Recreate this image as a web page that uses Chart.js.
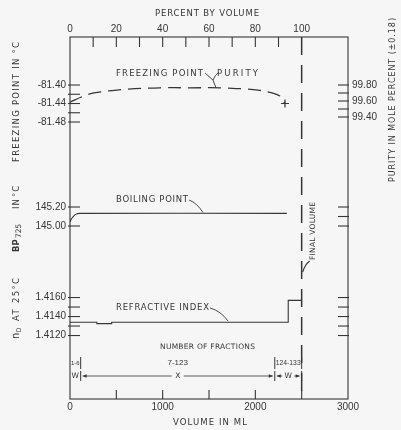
<!DOCTYPE html>
<html>
<head>
<meta charset="utf-8">
<script src="https://cdn.jsdelivr.net/npm/chart.js@4.4.1/dist/chart.umd.min.js"></script>
<style>
  html, body { margin: 0; padding: 0; background: #f6f6f6; }
  #wrap { width: 401px; height: 430px; position: relative; }
</style>
</head>
<body>
<div id="wrap"><canvas id="chart"></canvas></div>
<script>
// --- data (volumes in mL) ---
const fpVolume = [0, 55, 110, 215, 325, 505, 700, 970, 1295, 1620, 1835, 2030, 2180, 2265, 2320];
const fpValues = [-81.437, -81.432, -81.427, -81.419, -81.415, -81.411, -81.408, -81.406, -81.406, -81.406, -81.408, -81.411, -81.417, -81.424, -81.440];
const bpVolume = [0, 12, 35, 65, 105, 2340];
const bpValues = [145.04, 145.07, 145.10, 145.125, 145.133, 145.133];
const riVolume = [0, 290, 450, 2355, 2500];
const riValues = [1.4134, 1.41325, 1.4134, 1.4157, 1.4157];
const finalVolume = 2500;

// tick values
const volumeTicks = [500, 1000, 1500, 2000, 2500];
const percentTicks = [10, 20, 30, 40, 50, 60, 70, 80, 90];
const fpTicks = [-81.40, -81.42, -81.44, -81.46, -81.48];
const fpLabels = [-81.40, -81.44, -81.48];
const purityTicks = [99.80, 99.70, 99.60, 99.50, 99.40];
const purityLabels = [99.80, 99.60, 99.40];
const bpTicksLeft = [145.20, 145.00];
const bpTicksRight = [145.20, 145.10, 145.00];
const bpLabels = [145.20, 145.00];
const riTicks = [1.4160, 1.4150, 1.4140, 1.4130, 1.4120];
const riLabels = [1.4160, 1.4140, 1.4120];

// fraction cuts along the volume axis
const fractionBounds = [0, 115, 2210, 2500];
const fractionNames = ['1-6', '7-123', '124-133'];
const cutNames = ['W', 'X', 'W'];

const ink = '#363636';
const tickFont = '10px "Liberation Sans"';

function pts(xs, ys) { return xs.map((x, i) => ({ x: x, y: ys[i] })); }

// draw text squeezed/stretched to a given width (lettering look)
function fitText(ctx, s, x, y, w, size, rot) {
    ctx.save();
    ctx.translate(x, y);
    if (rot) ctx.rotate(rot);
    ctx.font = size + 'px "DejaVu Sans"';
    ctx.letterSpacing = '0px';
    const m = ctx.measureText(s).width;
    const sp = (w - m) / Math.max(1, s.length - 1);
    ctx.letterSpacing = sp + 'px';
    ctx.textAlign = 'left';
    ctx.textBaseline = 'middle';
    ctx.fillText(s, -w / 2, 0);
    ctx.restore();
}

function line(ctx, x0, y0, x1, y1) {
    ctx.beginPath(); ctx.moveTo(x0, y0); ctx.lineTo(x1, y1); ctx.stroke();
}

const decor = {
    id: 'decor',
    beforeDraw(chart) {
        const ctx = chart.ctx;
        ctx.save();
        ctx.fillStyle = '#f6f6f6';
        ctx.fillRect(0, 0, chart.width, chart.height);
        ctx.restore();
    },
    afterDatasetsDraw(chart) {
        const { ctx, chartArea: a, scales } = chart;
        const x = scales.x, xp = scales.xPct;
        ctx.save();
        ctx.strokeStyle = ink;
        ctx.fillStyle = ink;
        ctx.lineWidth = 1.1;

        // frame
        ctx.strokeRect(a.left, a.top, a.right - a.left, a.bottom - a.top);

        // inward ticks, top and bottom
        percentTicks.forEach(v => { const px = xp.getPixelForValue(v); line(ctx, px, a.top, px, a.top + 10); });
        volumeTicks.forEach(v => { const px = x.getPixelForValue(v); line(ctx, px, a.bottom, px, a.bottom - 9); });

        // left and right ticks
        const leftTicks = (scale, vals) => vals.forEach(v => { const py = scale.getPixelForValue(v); line(ctx, a.left - 2, py, a.left + 10, py); });
        const rightTicks = (scale, vals) => vals.forEach(v => { const py = scale.getPixelForValue(v); line(ctx, a.right - 10, py, a.right + 1, py); });
        leftTicks(scales.yFP, fpTicks);
        leftTicks(scales.yBP, bpTicksLeft);
        leftTicks(scales.yRI, riTicks);
        rightTicks(scales.yPur, purityTicks);
        rightTicks(scales.yBP, bpTicksRight);
        rightTicks(scales.yRI, riTicks);

        // tick labels
        ctx.font = tickFont;
        ctx.textBaseline = 'middle';
        ctx.textAlign = 'right';
        fpLabels.forEach(v => ctx.fillText(v.toFixed(2), a.left - 4, scales.yFP.getPixelForValue(v)));
        bpLabels.forEach(v => ctx.fillText(v.toFixed(2), a.left - 4, scales.yBP.getPixelForValue(v)));
        riLabels.forEach(v => ctx.fillText(v.toFixed(4), a.left - 4, scales.yRI.getPixelForValue(v)));
        ctx.textAlign = 'left';
        purityLabels.forEach(v => ctx.fillText(v.toFixed(2), a.right + 4, scales.yPur.getPixelForValue(v)));

        // final volume dashed line
        const fx = x.getPixelForValue(finalVolume);
        ctx.save();
        ctx.lineWidth = 1.5;
        ctx.setLineDash([18, 10]);
        line(ctx, fx, a.top, fx, a.bottom);
        ctx.restore();
        fitText(ctx, 'FINAL VOLUME', fx + 11, 231, 58, 7.5, -Math.PI / 2);
        ctx.beginPath();
        ctx.moveTo(fx + 8, 261);
        ctx.quadraticCurveTo(fx + 3, 265, fx + 1, 272);
        ctx.stroke();

        // axis titles
        fitText(ctx, 'PERCENT BY VOLUME', 207, 14, 104, 8.5);
        fitText(ctx, 'VOLUME IN ML', 210, 423, 74, 8.5);
        fitText(ctx, 'FREEZING POINT IN °C', 17, 102, 120, 8.5, -Math.PI / 2);
        fitText(ctx, 'PURITY IN MOLE PERCENT (±0.18)', 393, 100, 164, 8, -Math.PI / 2);

        // BP725 IN °C
        ctx.save();
        ctx.translate(17, 252);
        ctx.rotate(-Math.PI / 2);
        ctx.textBaseline = 'middle';
        ctx.textAlign = 'left';
        ctx.font = 'bold 8.5px "DejaVu Sans"';
        ctx.fillText('BP', 0, 0);
        ctx.font = '7.5px "DejaVu Sans"';
        ctx.fillText('725', 14, 2.5);
        ctx.font = '8.5px "DejaVu Sans"';
        ctx.letterSpacing = '1px';
        ctx.fillText('IN', 43, 0);
        ctx.fillText('°C', 55, 0);
        ctx.restore();

        // nD AT 25°C
        ctx.save();
        ctx.translate(17, 339);
        ctx.rotate(-Math.PI / 2);
        ctx.textBaseline = 'middle';
        ctx.textAlign = 'left';
        ctx.font = '10px "DejaVu Sans"';
        ctx.fillText('n', 0, -1);
        ctx.font = '6.5px "DejaVu Sans"';
        ctx.fillText('D', 6.5, 2.5);
        ctx.font = '8.5px "DejaVu Sans"';
        ctx.letterSpacing = '1.3px';
        ctx.fillText('AT', 18, 0);
        ctx.fillText('25°C', 36, 0);
        ctx.restore();

        // curve labels and leaders
        fitText(ctx, 'FREEZING POINT', 159.5, 74, 87, 8.5);
        fitText(ctx, 'PURITY', 237.5, 74, 41, 8.5);
        ctx.lineWidth = 0.9;
        ctx.beginPath();
        ctx.moveTo(205, 73); ctx.lineTo(213, 80);
        ctx.quadraticCurveTo(215, 75, 219, 72);
        ctx.moveTo(213, 80); ctx.lineTo(216, 88);
        ctx.stroke();

        fitText(ctx, 'BOILING POINT', 152, 200, 72, 8.5);
        ctx.beginPath();
        ctx.moveTo(189, 200); ctx.quadraticCurveTo(197, 203, 203, 212.5);
        ctx.stroke();

        fitText(ctx, 'REFRACTIVE INDEX', 162.5, 308, 93, 8.5);
        ctx.beginPath();
        ctx.moveTo(210, 308); ctx.quadraticCurveTo(221, 311, 228, 321);
        ctx.stroke();

        // fractions
        fitText(ctx, 'NUMBER OF FRACTIONS', 207.5, 347, 95, 7.5);
        const row1 = 363, row2 = 376;
        ctx.lineWidth = 1;
        fractionBounds.slice(1).forEach(v => {
            const px = x.getPixelForValue(v);
            line(ctx, px, row1 - 6, px, row1 + 6);
            line(ctx, px, row2 - 5, px, row2 + 5);
        });
        for (let i = 0; i < fractionNames.length; i++) {
            const x0 = x.getPixelForValue(fractionBounds[i]);
            const x1 = x.getPixelForValue(fractionBounds[i + 1]);
            const cx = (x0 + x1) / 2;
            // shrink the label when the span is narrow
            ctx.letterSpacing = '0px';
            ctx.font = '8px "Liberation Sans"';
            const nat = ctx.measureText(fractionNames[i]).width;
            const avail = x1 - x0 - 2;
            const size = nat > avail ? Math.max(6, 8 * avail / nat) : 8;
            ctx.font = size + 'px "Liberation Sans"';
            ctx.textAlign = 'center';
            ctx.textBaseline = 'middle';
            ctx.fillText(fractionNames[i], cx, row1);
            ctx.font = '7.5px "DejaVu Sans"';
            ctx.fillText(cutNames[i], cx, row2);
            if (x1 - x0 > 20) {
                const half = 6;
                const l0 = x0 + 2, l1 = cx - half, r0 = cx + half, r1 = x1 - 2;
                ctx.lineWidth = 0.8;
                line(ctx, l0, row2, l1, row2);
                line(ctx, r0, row2, r1, row2);
                ctx.beginPath();
                ctx.moveTo(l0, row2); ctx.lineTo(l0 + 4, row2 - 1.8); ctx.lineTo(l0 + 4, row2 + 1.8); ctx.closePath();
                ctx.moveTo(r1, row2); ctx.lineTo(r1 - 4, row2 - 1.8); ctx.lineTo(r1 - 4, row2 + 1.8); ctx.closePath();
                ctx.fill();
            }
        }
        ctx.restore();
    }
};

const fpLast = fpValues.length - 1;

new Chart(document.getElementById('chart'), {
    type: 'line',
    data: {
        datasets: [
            {
                label: 'Freezing point',
                data: pts(fpVolume, fpValues),
                yAxisID: 'yFP',
                borderColor: ink,
                borderWidth: 1.3,
                borderDash: [13, 7],
                tension: 0.35,
                pointRadius: fpValues.map((v, i) => i === fpLast ? 4 : 0),
                pointStyle: 'cross',
                pointBorderColor: ink,
                pointBorderWidth: 1.2
            },
            {
                label: 'Boiling point',
                data: pts(bpVolume, bpValues),
                yAxisID: 'yBP',
                borderColor: ink,
                borderWidth: 1.1,
                tension: 0.4,
                pointRadius: 0
            },
            {
                label: 'Refractive index',
                data: pts(riVolume, riValues),
                yAxisID: 'yRI',
                borderColor: ink,
                borderWidth: 1.1,
                stepped: true,
                pointRadius: 0
            }
        ]
    },
    options: {
        responsive: true,
        maintainAspectRatio: false,
        animation: false,
        devicePixelRatio: 1,
        layout: { padding: { left: 70, right: 53, top: 0, bottom: 0 } },
        plugins: { legend: { display: false }, tooltip: { enabled: false } },
        scales: {
            x: {
                type: 'linear', position: 'bottom', min: 0, max: 3000,
                grid: { display: false, drawTicks: false },
                border: { display: false },
                ticks: { stepSize: 1000, padding: 2, color: ink, font: { family: 'Liberation Sans', size: 10 }, maxRotation: 0,
                    callback: v => String(v) },
                afterFit: s => { s.height = 31; }
            },
            xPct: {
                type: 'linear', position: 'top', min: 0, max: 120,
                grid: { display: false, drawTicks: false },
                border: { display: false },
                ticks: { stepSize: 20, padding: 2, color: ink, font: { family: 'Liberation Sans', size: 10 }, maxRotation: 0,
                    callback: v => (v <= 100 ? String(v) : '') },
                afterFit: s => { s.height = 37; }
            },
            yFP: { type: 'linear', display: false, min: -82.0789, max: -81.2962 },
            yPur: { type: 'linear', display: false, position: 'right', min: 95.875, max: 100.40 },
            yBP: { type: 'linear', display: false, min: 143.179, max: 146.9895 },
            yRI: { type: 'linear', display: false, min: 1.40532, max: 1.44342 }
        }
    },
    plugins: [decor]
});
</script>
</body>
</html>
